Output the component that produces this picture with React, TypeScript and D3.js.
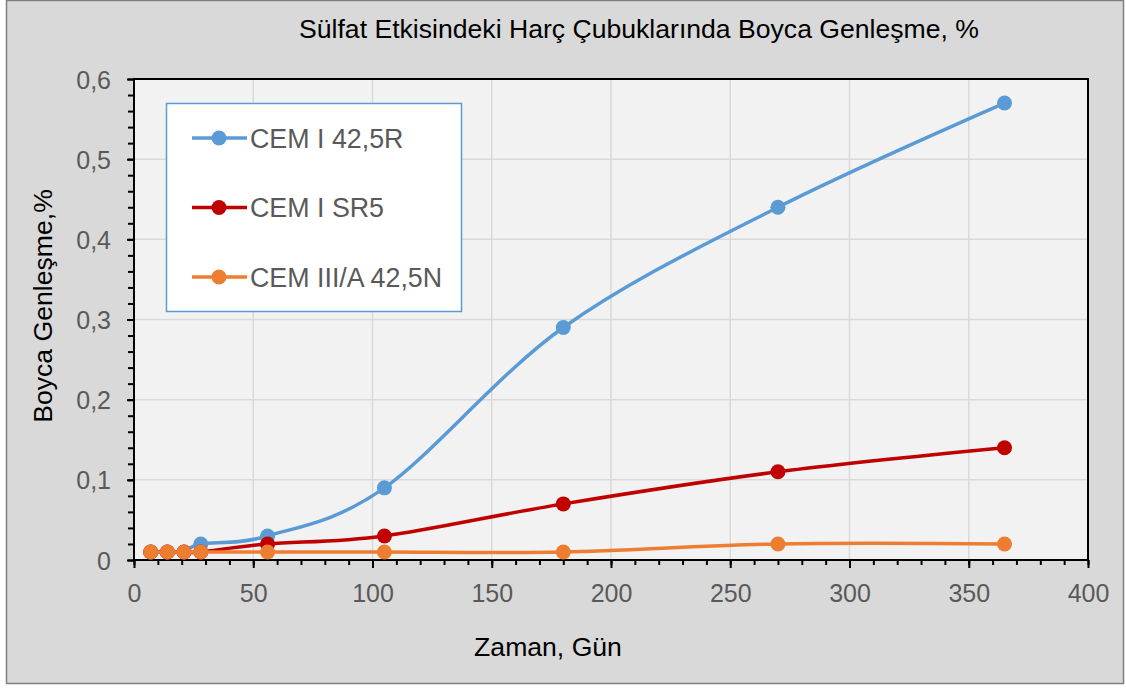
import React, { useEffect, useRef } from 'react';
import * as d3 from 'd3';

// chart values
const days = [7, 14, 21, 28, 56, 105, 180, 270, 365];
const cem42 = [0.01, 0.01, 0.01, 0.02, 0.03, 0.09, 0.29, 0.44, 0.57];
const cemSR5 = [0.01, 0.01, 0.01, 0.01, 0.02, 0.03, 0.07, 0.11, 0.14];
const cem3A = [0.01, 0.01, 0.01, 0.01, 0.01, 0.01, 0.01, 0.02, 0.02];
const seriesNames = ['CEM I 42,5R', 'CEM I SR5', 'CEM III/A 42,5N'];
const xTicks = [0, 50, 100, 150, 200, 250, 300, 350, 400];
const yTicks = [0, 0.1, 0.2, 0.3, 0.4, 0.5, 0.6];

const title = 'Sülfat Etkisindeki Harç Çubuklarında Boyca Genleşme, %';
const xTitle = 'Zaman, Gün';
const yTitle = 'Boyca Genleşme,%';

const App = () => {
    const ref = useRef<SVGSVGElement>(null);

    useEffect(() => {
        const width = 1126;
        const height = 688;
        const plot = { left: 134, right: 1088, top: 79, bottom: 560 };
        const font = '"Liberation Sans", Arial, sans-serif';
        const colors = ['#5b9bd5', '#c00000', '#ed7d31'];
        const values = [cem42, cemSR5, cem3A];

        const svg = d3.select(ref.current);
        svg.selectAll('*').remove();
        svg.attr('width', width).attr('height', height);

        // outer frame
        svg.append('rect')
            .attr('x', 6.5).attr('y', 0.5)
            .attr('width', 1117).attr('height', 683)
            .attr('fill', '#d9d9d9')
            .attr('stroke', '#7f7f7f')
            .attr('stroke-width', 1.5);

        const x = d3.scaleLinear().domain([0, 400]).range([plot.left, plot.right]);
        const y = d3.scaleLinear().domain([0, 0.6]).range([plot.bottom, plot.top]);

        // plot background
        svg.append('rect')
            .attr('x', plot.left).attr('y', plot.top)
            .attr('width', plot.right - plot.left).attr('height', plot.bottom - plot.top)
            .attr('fill', '#f2f2f2');

        // gridlines
        const grid = svg.append('g').attr('stroke', '#d9d9d9').attr('stroke-width', 1.5);
        grid.selectAll('.gx').data(xTicks.slice(1, -1)).enter().append('line')
            .attr('x1', d => x(d)).attr('x2', d => x(d))
            .attr('y1', plot.top).attr('y2', plot.bottom);
        grid.selectAll('.gy').data(yTicks.slice(1, -1)).enter().append('line')
            .attr('y1', d => y(d)).attr('y2', d => y(d))
            .attr('x1', plot.left).attr('x2', plot.right);

        // plot border
        svg.append('rect')
            .attr('x', plot.left).attr('y', plot.top)
            .attr('width', plot.right - plot.left).attr('height', plot.bottom - plot.top)
            .attr('fill', 'none')
            .attr('stroke', '#000')
            .attr('stroke-width', 2);

        // axes with minor ticks
        const xAxis = svg.append('g').attr('transform', `translate(0,${plot.bottom})`);
        xAxis.call(d3.axisBottom(x).tickValues(d3.range(0, 401, 10)).tickSize(5).tickFormat(() => ''));
        xAxis.append('g').call(d3.axisBottom(x).tickValues(xTicks).tickSize(8).tickFormat(d3.format('d')));
        xAxis.selectAll('.domain').remove();
        xAxis.selectAll('line').attr('stroke', '#000').attr('stroke-width', 2);
        xAxis.selectAll('text')
            .attr('fill', '#595959')
            .style('font-family', font)
            .style('font-size', '25px')
            .attr('y', 0).attr('dy', 0)
            .attr('transform', 'translate(0,42)');

        const yAxis = svg.append('g').attr('transform', `translate(${plot.left},0)`);
        yAxis.call(d3.axisLeft(y).tickValues(d3.range(0, 0.6001, 0.02)).tickSize(6).tickFormat(() => ''));
        yAxis.append('g').call(d3.axisLeft(y).tickValues(yTicks).tickSize(7)
            .tickFormat(d => (+d === 0 ? '0' : d3.format('.1f')(+d).replace('.', ','))));
        yAxis.selectAll('.domain').remove();
        yAxis.selectAll('line').attr('stroke', '#000').attr('stroke-width', 2);
        yAxis.selectAll('text')
            .attr('fill', '#595959')
            .style('font-family', font)
            .style('font-size', '25px')
            .attr('x', -23).attr('dy', '0.36em');

        // series lines and markers
        const line = d3.line<number>()
            .x((_, i) => x(days[i]))
            .y(d => y(d))
            .curve(d3.curveCardinal.tension(0));

        values.forEach((vals, s) => {
            svg.append('path')
                .datum(vals)
                .attr('d', line)
                .attr('fill', 'none')
                .attr('stroke', colors[s])
                .attr('stroke-width', 3.5);
            svg.selectAll(`.pt${s}`)
                .data(vals)
                .enter()
                .append('circle')
                .attr('cx', (_, i) => x(days[i]))
                .attr('cy', d => y(d))
                .attr('r', 7.5)
                .attr('fill', colors[s]);
        });

        // legend
        const legend = svg.append('g');
        legend.append('rect')
            .attr('x', 166.5).attr('y', 103.5)
            .attr('width', 295).attr('height', 208)
            .attr('fill', '#fff')
            .attr('stroke', '#5b9bd5')
            .attr('stroke-width', 1.5);
        seriesNames.forEach((name, s) => {
            const ly = 138 + s * 69.5;
            legend.append('line')
                .attr('x1', 192).attr('x2', 247)
                .attr('y1', ly).attr('y2', ly)
                .attr('stroke', colors[s]).attr('stroke-width', 3.5);
            legend.append('circle')
                .attr('cx', 219).attr('cy', ly).attr('r', 7.5)
                .attr('fill', colors[s]);
            legend.append('text')
                .attr('x', 250).attr('y', ly + 9.5)
                .attr('fill', '#595959')
                .style('font-family', font)
                .style('font-size', '26.8px')
                .text(name);
        });

        // titles
        svg.append('text')
            .attr('x', 639).attr('y', 38)
            .attr('text-anchor', 'middle')
            .style('font-family', font)
            .style('font-size', '26.6px')
            .attr('fill', '#000')
            .text(title);

        svg.append('text')
            .attr('x', 548).attr('y', 656)
            .attr('text-anchor', 'middle')
            .style('font-family', font)
            .style('font-size', '26.6px')
            .attr('fill', '#000')
            .text(xTitle);

        svg.append('text')
            .attr('transform', 'translate(52,306) rotate(-90)')
            .attr('text-anchor', 'middle')
            .style('font-family', font)
            .style('font-size', '26.6px')
            .attr('fill', '#000')
            .text(yTitle);
    }, []);

    return <svg ref={ref} style={{ position: 'absolute', left: 0, top: 0, display: 'block' }}></svg>;
};

export default App;
